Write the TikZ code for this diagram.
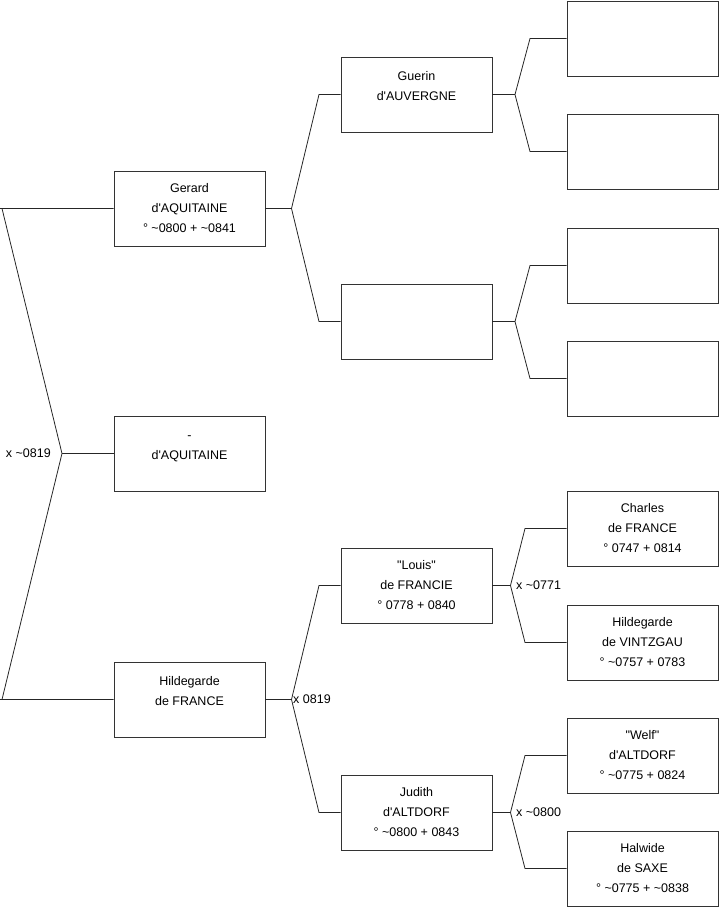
\documentclass[tikz,border=0pt]{standalone}
\usepackage{fontspec}
\setmainfont{Liberation Sans}
\begin{document}
\begin{tikzpicture}[x=1pt,y=-1pt,
  pbox/.style={draw=black!80, line width=0.9pt, minimum width=151pt, minimum height=75pt, inner sep=0pt,
    align=center, font=\fontsize{12.5}{20}\selectfont},
  conn/.style={draw=black!85, line width=0.8pt},
  lbl/.style={inner sep=0pt, font=\fontsize{12.5}{15}\selectfont}]
\useasboundingbox (0,0) rectangle (719,908);
\newcommand{\q}{\textquotesingle}
\newcommand{\dq}{\textquotedbl}
\newcommand{\tl}{\textasciitilde}
\newcommand{\blank}{\vphantom{0}}
\newcommand{\tall}{\rule{0pt}{13pt}}
% column 1
\node[pbox] (gerard) at (189.5,208.5) {Gerard\\d\q AQUITAINE\\° \tl 0800 + \tl 0841};
\node[pbox] (daq) at (189.5,453.5) {\tall-\\d\q AQUITAINE\\\blank};
\node[pbox] (hild) at (189.5,699.5) {\tall Hildegarde\\de FRANCE\\\blank};
% column 2
\node[pbox] (guerin) at (416.5,94.5) {\tall Guerin\\d\q AUVERGNE\\\blank};
\node[pbox] (empty2) at (416.5,321.5) {};
\node[pbox] (louis) at (416.5,585.5) {\dq Louis\dq\\de FRANCIE\\° 0778 + 0840};
\node[pbox] (judith) at (416.5,812.5) {Judith\\d\q ALTDORF\\° \tl 0800 + 0843};
% column 3
\node[pbox] (e1) at (642.5,38.5) {};
\node[pbox] (e2) at (642.5,151.5) {};
\node[pbox] (e3) at (642.5,265.5) {};
\node[pbox] (e4) at (642.5,378.5) {};
\node[pbox] (charles) at (642.5,528.5) {Charles\\de FRANCE\\° 0747 + 0814};
\node[pbox] (hvin) at (642.5,642.5) {Hildegarde\\de VINTZGAU\\° \tl 0757 + 0783};
\node[pbox] (welf) at (642.5,755.5) {\dq Welf\dq\\d\q ALTDORF\\° \tl 0775 + 0824};
\node[pbox] (halw) at (642.5,868.5) {Halwide\\de SAXE\\° \tl 0775 + \tl 0838};
% fork column 1
\coordinate (a0) at (62,453.5);
\coordinate (a0t) at (2,208.5);
\coordinate (a0b) at (2,699.5);
\draw[conn] (gerard.west) -- (0,208.5) -- (a0t) -- (a0) -- (a0b) -- (0,699.5) -- (hild.west);
\draw[conn] (a0) -- (daq.west);
\node[lbl, anchor=east] (l0) at (51,453.5) {x \tl 0819};
% forks column 2
\coordinate (a1) at (291.5,208.5);
\coordinate (a1t) at (319,94.5);
\coordinate (a1b) at (319,321.5);
\draw[conn] (gerard.east) -- (a1);
\draw[conn] (guerin.west) -- (a1t) -- (a1) -- (a1b) -- (empty2.west);
\coordinate (a2) at (291.5,699.5);
\coordinate (a2t) at (319,585.5);
\coordinate (a2b) at (319,812.5);
\draw[conn] (hild.east) -- (a2);
\draw[conn] (louis.west) -- (a2t) -- (a2) -- (a2b) -- (judith.west);
\node[lbl, anchor=west] (l2) at (293,699.5) {x 0819};
% forks column 3
\coordinate (a3) at (515,94.5);
\coordinate (a3t) at (530,38.5);
\coordinate (a3b) at (530,151.5);
\draw[conn] (guerin.east) -- (a3);
\draw[conn] (e1.west) -- (a3t) -- (a3) -- (a3b) -- (e2.west);
\coordinate (a4) at (515,321.5);
\coordinate (a4t) at (530,265.5);
\coordinate (a4b) at (530,378.5);
\draw[conn] (empty2.east) -- (a4);
\draw[conn] (e3.west) -- (a4t) -- (a4) -- (a4b) -- (e4.west);
\coordinate (a5) at (510.5,585.5);
\coordinate (a5t) at (525,528.5);
\coordinate (a5b) at (525,642.5);
\draw[conn] (louis.east) -- (a5);
\draw[conn] (charles.west) -- (a5t) -- (a5) -- (a5b) -- (hvin.west);
\node[lbl, anchor=west] (l5) at (516,585.5) {x \tl 0771};
\coordinate (a6) at (510.5,812.5);
\coordinate (a6t) at (525,755.5);
\coordinate (a6b) at (525,868.5);
\draw[conn] (judith.east) -- (a6);
\draw[conn] (welf.west) -- (a6t) -- (a6) -- (a6b) -- (halw.west);
\node[lbl, anchor=west] (l6) at (516,812.5) {x \tl 0800};
\end{tikzpicture}
\end{document}
